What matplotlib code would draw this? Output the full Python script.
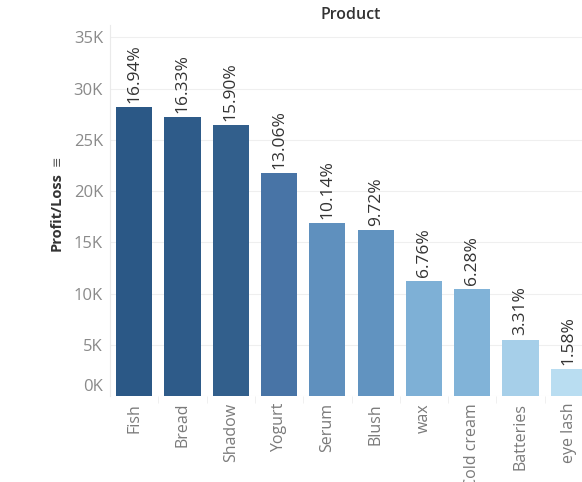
import matplotlib
matplotlib.use("Agg")
import matplotlib.pyplot as plt
import matplotlib.transforms as mtransforms

products = ["Fish", "Bread", "Shadow", "Yogurt", "Serum", "Blush", "wax",
            "Cold cream", "Batteries", "eye lash"]
profit_k = [28.2, 27.2, 26.45, 21.75, 16.9, 16.2, 11.25, 10.45, 5.5, 2.65]
pct_labels = ["16.94%", "16.33%", "15.90%", "13.06%", "10.14%", "9.72%",
              "6.76%", "6.28%", "3.31%", "1.58%"]
y_ticks = [0, 5, 10, 15, 20, 25, 30, 35]
y_tick_labels = ["0K", "5K", "10K", "15K", "20K", "25K", "30K", "35K"]
bar_colors = ["#2b5886", "#2e5b89", "#325f8c", "#4874a6", "#5f90be",
              "#6193c0", "#7eb0d6", "#81b3d8", "#a6cfe9", "#b9ddf1"]

plt.rcParams['font.family'] = ['Open Sans', 'DejaVu Sans']

fig = plt.figure(figsize=(5.82, 4.82), dpi=100)
ax = fig.add_axes([110/582, 1-396/482, 483/582, (396-25)/482])

x = list(range(len(products)))
ax.bar(x, profit_k, width=0.75, color=bar_colors, zorder=3)
for xi, v, lab in zip(x, profit_k, pct_labels):
    ax.annotate(lab, (xi, v), xytext=(0, 3), textcoords="offset points",
                rotation=90, ha="center", va="bottom", fontsize=12.5,
                color="#333333", zorder=4)

ax.set_xlim(-0.5, len(products) - 0.5)
ax.set_ylim(0, 36.2)
ax.set_yticks(y_ticks)
ax.set_yticklabels(y_tick_labels)
ax.set_xticks(x)
ax.set_xticklabels(products, rotation=90)
ax.tick_params(axis="y", length=0, pad=5, labelsize=12, labelcolor="#8a8a8a")
ax.tick_params(axis="x", length=0, pad=5, labelsize=11.5, labelcolor="#7a7a7a")
# shift 0K label up like the reference
lbls = ax.get_yticklabels()
lbls[0].set_transform(lbls[0].get_transform() +
                      mtransforms.ScaledTranslation(0, 8/72, fig.dpi_scale_trans))

# minor ticks between categories at bottom
ax.set_xticks([i + 0.5 for i in x[:-1]], minor=True)
ax.tick_params(axis="x", which="minor", length=5, color="#eeeeee", direction="out")

ax.grid(axis="y", color="#efefef", linewidth=0.8, zorder=0)
for s in ["top", "right", "bottom"]:
    ax.spines[s].set_visible(False)
ax.spines["left"].set_color("#eaeaea")

fig.text(351/582, 1-15/482, "Product", ha="center", va="center",
         fontsize=11.5, fontweight="semibold", color="#333333")
fig.text(57/582, 1-212/482, "Profit/Loss", ha="center", va="center",
         rotation=90, fontsize=10.5, fontweight="bold", color="#333333")
fig.text(57/582, 1-161/482, "≡", ha="center", va="center",
         rotation=90, fontsize=9, color="#555555",
         family=['DejaVu Sans'])

fig.savefig("out.png", dpi=100)
